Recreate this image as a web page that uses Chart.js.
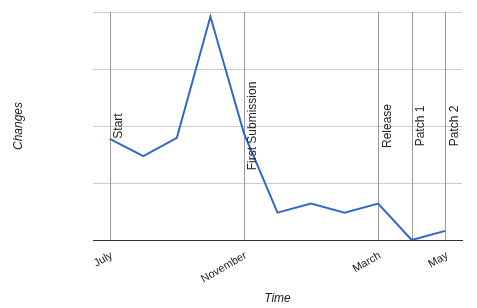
<!DOCTYPE html>
<html>
<head>
<meta charset="utf-8">
<script src="https://cdn.jsdelivr.net/npm/chart.js@4/dist/chart.umd.min.js"></script>
<style>
html,body{margin:0;padding:0;background:#fff;}
canvas{display:block;}
</style>
</head>
<body>
<canvas id="c" width="477" height="308"></canvas>
<script>
const months = ['July','August','September','October','November','December','January','February','March','April','May'];
const changes = [11.1, 9.2, 11.2, 24.5, 11.7, 3, 4, 3, 4, 0, 1];
const shownTicks = ['July','November','March','May'];
const eventMonths = ['July','November','March','April','May'];
const eventLabels = ['Start','First Submission','Release','Patch 1','Patch 2'];

const annotationPlugin = {
  id: 'events',
  beforeDatasetsDraw(chart) {
    const ctx = chart.ctx, x = chart.scales.x, area = chart.chartArea;
    ctx.save();
    ctx.strokeStyle = '#999';
    ctx.lineWidth = 1;
    eventMonths.forEach(m => {
      const px = Math.round(x.getPixelForValue(months.indexOf(m))) + 0.5;
      ctx.beginPath();
      ctx.moveTo(px, area.top);
      ctx.lineTo(px, area.bottom);
      ctx.stroke();
    });
    ctx.restore();
  },
  afterDatasetsDraw(chart) {
    const ctx = chart.ctx, x = chart.scales.x, area = chart.chartArea;
    ctx.save();
    ctx.fillStyle = '#222';
    ctx.font = '12px "Liberation Sans", Arial, sans-serif';
    ctx.textAlign = 'center';
    ctx.textBaseline = 'alphabetic';
    const cy = (area.top + area.bottom) / 2;
    eventMonths.forEach((m, i) => {
      const px = x.getPixelForValue(months.indexOf(m));
      ctx.save();
      ctx.translate(px + 12.5, cy);
      ctx.rotate(-Math.PI / 2);
      ctx.fillText(eventLabels[i], 0, 0);
      ctx.restore();
    });
    ctx.restore();
  }
};

new Chart(document.getElementById('c'), {
  type: 'line',
  data: {
    labels: months,
    datasets: [{
      data: changes,
      borderColor: '#3366cc',
      borderWidth: 2,
      pointRadius: 0,
      tension: 0,
      fill: false
    }]
  },
  options: {
    responsive: false,
    animation: false,
    devicePixelRatio: 1,
    layout: { padding: { top: 12, right: 15, left: 0, bottom: 0 } },
    plugins: { legend: { display: false }, tooltip: { enabled: false } },
    scales: {
      x: {
        offset: true,
        grid: { display: false, drawTicks: false },
        border: { display: true, color: '#333', width: 1 },
        ticks: {
          autoSkip: false,
          minRotation: 30,
          maxRotation: 30,
          padding: 9,
          labelOffset: 2,
          color: '#222',
          font: { family: '"Liberation Sans", Arial, sans-serif', size: 11 },
          callback: function(v, i) { return shownTicks.includes(months[i]) ? months[i] : ''; }
        },
        title: {
          display: true,
          text: 'Time',
          color: '#222',
          padding: { top: 0, bottom: 2 },
          font: { family: '"Liberation Sans", Arial, sans-serif', size: 12, style: 'italic' }
        },
        afterFit(scale) { scale.height = 68; }
      },
      y: {
        min: 0,
        max: 25,
        grid: {
          color: ctx => ctx.tick && ctx.tick.value === 0 ? 'rgba(0,0,0,0)' : '#ccc',
          drawTicks: false
        },
        border: { display: false },
        ticks: { display: false, stepSize: 6.25 },
        title: {
          display: true,
          text: 'Changes',
          color: '#222',
          padding: { top: 11, bottom: 0 },
          font: { family: '"Liberation Sans", Arial, sans-serif', size: 12, style: 'italic' }
        },
        afterFit(scale) { scale.width = 93; }
      }
    }
  },
  plugins: [annotationPlugin]
});
</script>
</body>
</html>
